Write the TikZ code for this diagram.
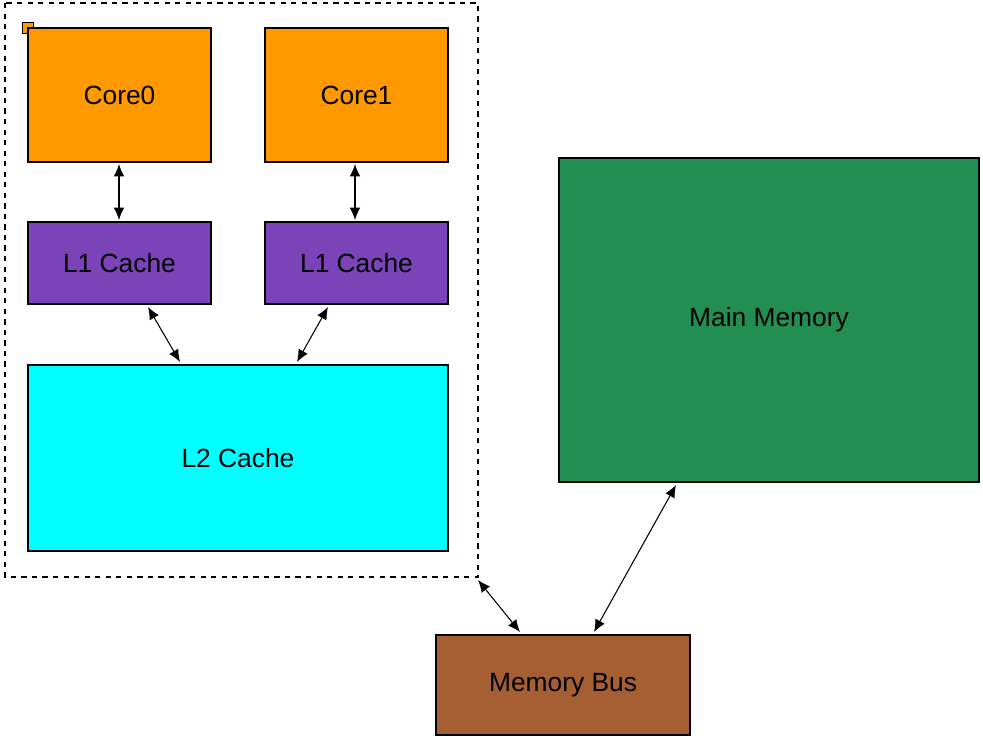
\documentclass[tikz,border=0pt]{standalone}
\usepackage{fontspec}
\setmainfont{Liberation Sans}
\usetikzlibrary{arrows.meta}
\definecolor{corec}{HTML}{FF9900}
\definecolor{l1c}{HTML}{7A44B8}
\definecolor{l2c}{HTML}{00FFFF}
\definecolor{memc}{HTML}{238E52}
\definecolor{busc}{HTML}{A65E33}
\begin{document}
\begin{tikzpicture}[x=0.02cm,y=-0.02cm,
  box/.style={draw=black,line width=0.6pt,font=\fontsize{15}{18}\selectfont},
  arr/.style={{Latex[length=7pt,width=6pt]}-{Latex[length=7pt,width=6pt]},line width=0.6pt}]
\useasboundingbox (0,0) rectangle (983,741);
\draw[dashed,line width=0.6pt] (5,3) rectangle (478,577);
\node[box,fill=corec] (c0) at (28,28) {};
\path[box,fill=corec,draw] (28,28) rectangle node (c0t) {Core0} (211,162);
\path[box,fill=corec,draw] (265,28) rectangle node (c1t) {Core1} (448,162);
\path[box,fill=l1c,draw] (28,222) rectangle node (l1at) {L1 Cache} (211,304);
\path[box,fill=l1c,draw] (265,222) rectangle node (l1bt) {L1 Cache} (448,304);
\path[box,fill=l2c,draw] (28,365) rectangle node (l2t) {L2 Cache} (448,551);
\path[box,fill=memc,draw] (559,158) rectangle node (mmt) {Main Memory} (979,482);
\path[box,fill=busc,draw] (436,635) rectangle node (bust) {Memory Bus} (690,735);
\coordinate (a1) at (119,164); \coordinate (a2) at (119,220);
\coordinate (b1) at (355,164); \coordinate (b2) at (355,220);
\coordinate (c1) at (148,307); \coordinate (c2) at (180,362);
\coordinate (d1) at (328,307); \coordinate (d2) at (297,362);
\coordinate (e1) at (478,580); \coordinate (e2) at (520,632);
\coordinate (f1) at (594,632); \coordinate (f2) at (676,485);
\draw[arr] (a1) -- (a2);
\draw[arr] (b1) -- (b2);
\draw[arr] (c1) -- (c2);
\draw[arr] (d1) -- (d2);
\draw[arr] (e1) -- (e2);
\draw[arr] (f1) -- (f2);
\end{tikzpicture}
\end{document}
